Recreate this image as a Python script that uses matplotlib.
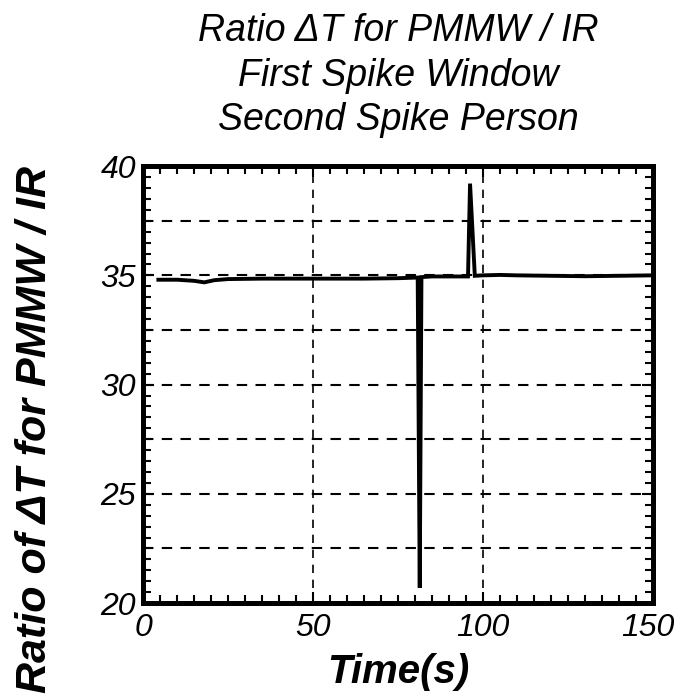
import matplotlib.pyplot as plt
import matplotlib.transforms as mtransforms
from matplotlib.ticker import MultipleLocator

# data
time_s = [4.5, 10, 15, 18, 21, 25, 35, 50, 65, 75, 80.8, 81.4, 81.9, 85, 90, 95.6, 96.2, 97.6, 100, 105, 110, 120, 130, 140, 150]
ratio = [34.8, 34.8, 34.75, 34.68, 34.78, 34.83, 34.85, 34.85, 34.85, 34.87, 34.9, 20.7, 34.92, 34.95, 34.95, 34.95, 39.2, 34.98, 35.0, 35.02, 35.0, 34.98, 34.96, 34.98, 35.0]

x_ticks = [0, 50, 100, 150]
y_ticks = [20, 25, 30, 35, 40]

fam = ['Liberation Sans Narrow', 'Liberation Sans', 'DejaVu Sans']
plt.rcParams['font.family'] = fam

fig = plt.figure(figsize=(6.78, 6.98), dpi=100)
ax = fig.add_axes([0.211, 0.136, 0.752, 0.626])

ax.plot(time_s, ratio, color='black', lw=2.8, solid_joinstyle='miter')

ax.set_xlim(0, 150)
ax.set_ylim(20, 40)
ax.set_xticks(x_ticks)
ax.set_yticks(y_ticks)
ax.xaxis.set_minor_locator(MultipleLocator(5))
ax.yaxis.set_minor_locator(MultipleLocator(0.5))
ax.tick_params(which='both', direction='in', top=True, right=True, color='black')
ax.tick_params(which='major', length=8, width=1.5, labelsize=23)
ax.tick_params(axis='x', which='major', pad=7)
ax.tick_params(axis='y', which='major', pad=5)
ax.tick_params(which='minor', length=6, width=1.5)
for lab in ax.get_xticklabels() + ax.get_yticklabels():
    lab.set_fontstyle('italic')
# keep the last x label inside the figure
last = ax.get_xticklabels()[-1]
last.set_transform(last.get_transform() +
                   mtransforms.ScaledTranslation(-5 / 100, 0, fig.dpi_scale_trans))

# grid: vertical every 50, horizontal every 2.5
for gx in [50, 100]:
    ax.axvline(gx, color='black', lw=1.2, ls=(0, (5, 4)), zorder=0)
for gy in [22.5, 25, 27.5, 30, 32.5, 35, 37.5]:
    ax.axhline(gy, color='black', lw=1.5, ls=(0, (5, 4)), zorder=0)

for sp in ax.spines.values():
    sp.set_linewidth(3.6)

ax.set_title('Ratio \u0394T for PMMW / IR\nFirst Spike Window\nSecond Spike Person',
             fontsize=27, fontstyle='italic', linespacing=1.3, pad=26)
ax.set_xlabel('Time(s)', fontsize=29, fontstyle='italic', fontweight='bold', labelpad=7)
fig.text(0.052, 0.385, 'Ratio of \u0394T for PMMW / IR', rotation=90, fontsize=31,
         fontstyle='italic', fontweight='bold', ha='center', va='center')

fig.savefig('out.png', dpi=100)
